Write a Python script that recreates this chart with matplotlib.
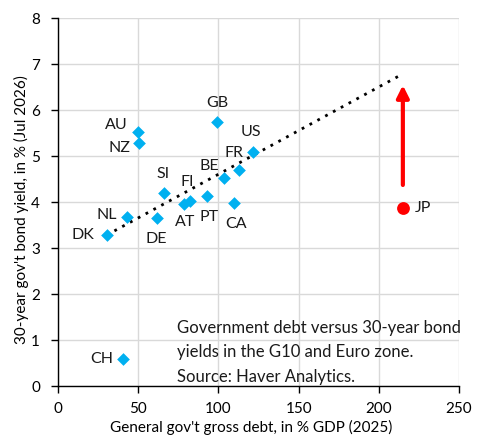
import matplotlib
matplotlib.use("Agg")
import matplotlib.pyplot as plt
import numpy as np

plt.rcParams['font.family'] = ['Lato', 'DejaVu Sans']

countries = ["AU", "NZ", "GB", "US", "FR", "BE", "SI", "FI", "AT", "PT", "CA", "NL", "DE", "DK", "CH"]
debt = [50.1, 50.7, 99.4, 121.8, 113.0, 103.5, 66.3, 82.3, 78.6, 93.1, 110.0, 43.2, 62.0, 30.3, 40.3]
yld = [5.52, 5.29, 5.74, 5.09, 4.70, 4.53, 4.19, 4.03, 3.95, 4.13, 3.97, 3.68, 3.66, 3.28, 0.58]
label_offsets = [(-22, 7), (-20, -5), (0, 19), (-2, 20), (-5, 17), (-15, 12), (-1, 19), (-3, 19),
                 (1, -18), (2, -21), (2, -21), (-21, 2), (-1, -21), (-24, 0), (-21, 0)]

jp_debt = 215.0
jp_yield = 3.87
jp_arrow_start = 4.37
jp_arrow_end = 6.54

trend_x = [30.3, 212.6]
trend_y = [3.28, 6.74]

x_ticks = [0, 50, 100, 150, 200, 250]
y_ticks = [0, 1, 2, 3, 4, 5, 6, 7, 8]

W, H = 492, 437
fig = plt.figure(figsize=(W/100, H/100), dpi=100)
ax = fig.add_axes([58/W, 1-386/H, 401/W, 368/H])

ax.set_xlim(0, 250)
ax.set_ylim(0, 8)
ax.set_xticks(x_ticks)
ax.set_yticks(y_ticks)
ax.grid(True, color='#d9d9d9', linewidth=1.0)
ax.set_axisbelow(True)
for s in ['top', 'right']:
    ax.spines[s].set_visible(False)
for s in ['left', 'bottom']:
    ax.spines[s].set_color('black')
    ax.spines[s].set_linewidth(1.0)
ax.tick_params(axis='y', labelsize=11, length=5, width=1, color='black', pad=8)
ax.tick_params(axis='x', labelsize=11, length=5, width=1, color='black', pad=6.5)

ax.plot(trend_x, trend_y, linestyle=(0, (1, 2.2)), color='black', linewidth=2.0, zorder=2)

ax.scatter(debt, yld, marker='D', s=42, color='#00b0f0', zorder=3, linewidths=0)
for c, x, y, (dx, dy) in zip(countries, debt, yld, label_offsets):
    ax.annotate(c, (x, y), xytext=(dx, dy), textcoords='offset pixels',
                ha='center', va='center', fontsize=11.5, color='#1a1a1a')

ax.scatter([jp_debt], [jp_yield], marker='o', s=85, color='red', zorder=3, linewidths=0)
ax.annotate("JP", (jp_debt, jp_yield), xytext=(20, 0), textcoords='offset pixels',
            ha='center', va='center', fontsize=11.5, color='#1a1a1a')
ax.annotate("", xy=(jp_debt, jp_arrow_end), xytext=(jp_debt, jp_arrow_start),
            arrowprops=dict(arrowstyle='-|>', color='red', lw=3, mutation_scale=18,
                            shrinkA=0, shrinkB=0))

ax.text(0.298, 0.180, "Government debt versus 30-year bond\nyields in the G10 and Euro zone.\nSource: Haver Analytics.",
        transform=ax.transAxes, ha='left', va='top', fontsize=12, linespacing=1.65, color='#1a1a1a')

fig.text(251/W, 1-427/H, "General gov't gross debt, in % GDP (2025)", fontsize=11,
         ha='center', va='center', color='black')
fig.text(21/W, 1-210/H, "30-year gov't bond yield, in % (Jul 2026)", fontsize=11,
         ha='center', va='center', rotation=90, color='black')

fig.savefig("out.png", dpi=100)
